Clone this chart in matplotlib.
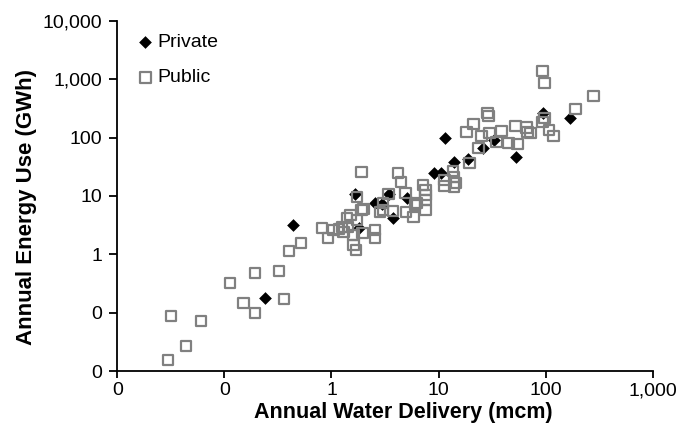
import numpy as np
import matplotlib
matplotlib.use("Agg")
import matplotlib.pyplot as plt
from matplotlib.ticker import FuncFormatter, FixedLocator

plt.rcParams['font.family'] = ['Liberation Sans', 'DejaVu Sans']

# annual water delivery (mcm) and annual energy use (GWh)
private_water = [0.24, 0.44, 1.66, 1.82, 2.56, 2.98, 3.46, 3.77, 5.1, 9.1,
                 10.6, 11.6, 14.0, 19.0, 26.2, 33.2, 53.2, 95.2, 170]
private_energy = [0.18, 3.2, 10.9, 2.84, 7.6, 7.3, 10.9, 4.2, 9.3, 24.9,
                  24.9, 98.8, 38.4, 43, 66.7, 91, 46.7, 265, 217]

public_water = [0.0298, 0.0318, 0.0438, 0.0605, 0.113, 0.150, 0.194, 0.194,
                0.324, 0.361, 0.403, 0.521,
                0.818, 0.931, 1.04, 1.18, 1.26, 1.29, 1.40, 1.43, 1.50, 1.60,
                1.60, 1.70, 1.74, 1.74, 1.90, 1.90, 1.94, 1.98,
                2.56, 2.56, 2.85, 3.04, 3.04, 3.39, 3.77, 4.20, 4.48, 4.89,
                4.99, 5.81, 6.05, 6.32, 7.19, 7.51, 7.51, 7.51, 7.51,
                11.3, 11.3, 13.7, 14.0, 14.6, 14.0, 18.2, 19.4, 21.1, 23.5,
                25.1, 28.5, 29.1, 29.8, 34.6,
                38.5, 44.8, 52.1, 54.4, 65.9, 67.4, 71.9, 93.1, 97.3, 93.1,
                97.3, 108, 118, 190, 279]
public_energy = [0.0156, 0.0885, 0.0271, 0.0726, 0.325, 0.148, 0.482, 0.0995,
                 0.521, 0.173, 1.15, 1.57,
                 2.84, 1.92, 2.63, 2.73, 2.96, 2.43, 4.2, 2.96, 4.75, 2.16,
                 1.45, 1.19, 3.90, 9.66, 25.9, 5.78, 2.33, 6.01,
                 2.63, 1.92, 5.34, 7.62, 5.78, 10.9, 5.56, 24.9, 17.4, 11.3,
                 5.34, 4.39, 7.04, 7.62, 15.5, 12.7, 10.4, 8.57, 5.78,
                 18.9, 14.9, 26.9, 21.2, 16.8, 14.3, 125, 36.9, 172, 66.7,
                 107, 265, 235, 120, 84.4,
                 130, 81.1, 159, 78, 147, 125, 120, 1387, 865, 186,
                 217, 135, 107, 310, 518]

x_ticks = [0.01, 0.1, 1, 10, 100, 1000]
y_ticks = [0.01, 0.1, 1, 10, 100, 1000, 10000]

fig = plt.figure(figsize=(6.91, 4.24), dpi=100)
ax = fig.add_axes([0.1697, 0.1243, 0.7749, 0.8269])

ax.scatter(private_water, private_energy, marker='D', s=42, color='black',
           linewidths=0, label='Private', zorder=2)
ax.scatter(public_water, public_energy, marker='s', s=58, facecolors='none',
           edgecolors='#808080', linewidths=1.6, label='Public', zorder=3)

ax.set_xscale('log')
ax.set_yscale('log')
ax.set_xlim(0.01, 1000)
ax.set_ylim(0.01, 10000)
ax.xaxis.set_major_locator(FixedLocator(x_ticks))
ax.yaxis.set_major_locator(FixedLocator(y_ticks))
ax.xaxis.set_minor_locator(FixedLocator([]))
ax.yaxis.set_minor_locator(FixedLocator([]))
fmt = FuncFormatter(lambda v, p: "{:,.0f}".format(v))
ax.xaxis.set_major_formatter(fmt)
ax.yaxis.set_major_formatter(fmt)

for side in ['top', 'right']:
    ax.spines[side].set_visible(False)
for side in ['left', 'bottom']:
    ax.spines[side].set_linewidth(1.3)
    ax.spines[side].set_color('black')
ax.tick_params(axis='both', direction='out', length=6, width=1.3,
               labelsize=14, colors='black', pad=5)
ax.tick_params(axis='x', length=5, pad=3)

ax.set_xlabel('Annual Water Delivery (mcm)', fontsize=15.5, fontweight='bold')
ax.set_ylabel('Annual Energy Use (GWh)', fontsize=16, fontweight='bold')
ax.xaxis.set_label_coords(0.534, -0.087)
ax.yaxis.set_label_coords(-0.149, 0.469)

ax.legend(loc='upper left', bbox_to_anchor=(0.018, 0.985), frameon=False,
          fontsize=14, handletextpad=0.05, labelspacing=0.9,
          handlelength=1.1, borderaxespad=0)

fig.savefig('out.png', dpi=100)
